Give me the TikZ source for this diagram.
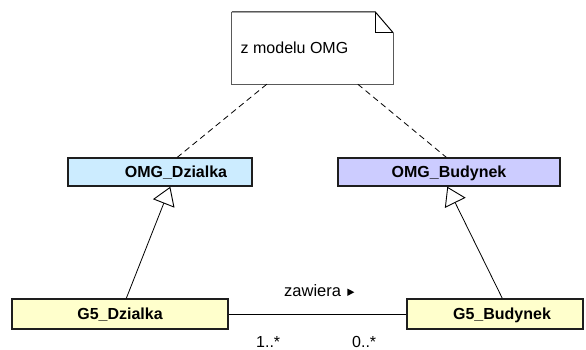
\documentclass[tikz,border=0pt]{standalone}
\usepackage{fontspec}
\setmainfont{Liberation Sans}
\usetikzlibrary{arrows.meta,calc}
\definecolor{lblue}{RGB}{204,236,255}
\definecolor{lviolet}{RGB}{204,204,255}
\definecolor{lyellow}{RGB}{255,255,204}
\definecolor{edge}{RGB}{30,30,30}
\begin{document}
\begin{tikzpicture}[x=1pt,y=-1pt,
  classbox/.style={draw=edge,line width=1.4pt,rectangle,inner sep=0pt},
  classtext/.style={font=\fontsize{16}{19}\selectfont\bfseries,inner sep=0pt,anchor=base},
  plaintext/.style={font=\fontsize{16}{19}\selectfont,inner sep=0pt,anchor=base},
  gen/.style={line width=0.8pt,-{Triangle[open,length=18pt,width=23pt,line width=0.9pt]}},
  dep/.style={line width=0.8pt,dash pattern=on 6pt off 4pt},
  assoc/.style={line width=0.9pt}]
\useasboundingbox (0,0) rectangle (586,349);
% note
\node[rectangle,inner sep=0pt,minimum width=161pt,minimum height=72pt] (note) at (312.5,48) {};
\draw[gray!70!black,line width=1.1pt] ($(note.north east)+(0,21)$) -- (note.south east) -- (note.south west) -- (note.north west);
\draw[black,line width=1pt] (note.north west) -- ($(note.north east)+(-18,0)$) -- ($(note.north east)+(0,21)$);
\draw[black,line width=1pt] ($(note.north east)+(-18,0)$) -- ($(note.north east)+(-18,21)$) -- ($(note.north east)+(0,21)$);
\node[plaintext,anchor=base west] (notetext) at (240.5,53) {z modelu OMG};
% classes
\node[classbox,fill=lblue,minimum width=184pt,minimum height=28pt] (omgd) at (160,172) {};
\node[classtext] (omgdt) at (176,177) {OMG\_Dzialka};
\node[classbox,fill=lviolet,minimum width=222pt,minimum height=28pt] (omgb) at (449,172) {};
\node[classtext] (omgbt) at (449,177) {OMG\_Budynek};
\node[classbox,fill=lyellow,minimum width=216pt,minimum height=30pt] (g5d) at (120,314) {};
\node[classtext] (g5dt) at (120,319) {G5\_Dzialka};
\node[classbox,fill=lyellow,minimum width=176pt,minimum height=30pt] (g5b) at (495,314) {};
\node[classtext] (g5bt) at (502,319) {G5\_Budynek};
% dependencies
\draw[dep] ($(note.south west)+(35,0)$) -- ($(omgd.north west)+(110,0)$);
\draw[dep] ($(note.south west)+(126,0)$) -- ($(omgb.north west)+(109,0)$);
% generalizations
\draw[gen] ($(g5d.north west)+(115,0)$) -- ($(omgd.south west)+(103,0)$);
\draw[gen] ($(g5b.north west)+(96,0)$) -- ($(omgb.south west)+(110,0)$);
% association
\draw[assoc] (g5d.east) -- (g5b.west);
\node[plaintext,anchor=base west,font=\fontsize{16.5}{19}\selectfont] (assoclabel) at (284,296) {zawiera};
\fill ($(assoclabel.base east)+(6,-7.5)$) -- ++(7,3.7) -- ++(-7,3.8) -- cycle;
\node[plaintext,anchor=base west] (m1) at (256,347) {1..*};
\node[plaintext,anchor=base west] (m2) at (352,347) {0..*};
\end{tikzpicture}
\end{document}
